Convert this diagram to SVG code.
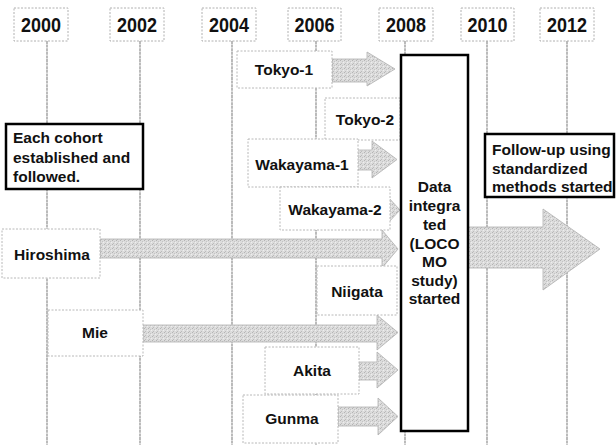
<svg xmlns="http://www.w3.org/2000/svg" width="616" height="445" viewBox="0 0 616 445">
<defs>
<pattern id="stip" width="4" height="4" patternUnits="userSpaceOnUse">
<rect width="4" height="4" fill="#dcdcdc"/>
<rect x="0" y="0" width="1" height="1" fill="#b4b4b4"/>
<rect x="2" y="1" width="1" height="1" fill="#c4c4c4"/>
<rect x="1" y="3" width="1" height="1" fill="#bcbcbc"/>
<rect x="3" y="2" width="1" height="1" fill="#eeeeee"/>
</pattern>
</defs>
<style>
text{font-family:"Liberation Sans",Arial,sans-serif;font-weight:bold;font-size:15.5px;fill:#111}
.y{font-size:20px}
.yr{fill:#fff;stroke:#b0b0b0;stroke-width:1;stroke-dasharray:2 1.5}
.vl{stroke:#aaa;stroke-width:1.6;stroke-dasharray:3 0.6;fill:none}
.nb{fill:#fff;stroke:#b8b8b8;stroke-width:1;stroke-dasharray:2 1.5}
.ar{fill:url(#stip);stroke:#b0b0b0;stroke-width:0.8}
.bb{fill:#fff;stroke:#000;stroke-width:2.5}
.c{text-anchor:middle}
</style>
<g id="timeline">
<line class="vl" x1="47" y1="41" x2="47" y2="445"/>
<line class="vl" x1="140" y1="41" x2="140" y2="445"/>
<line class="vl" x1="232" y1="41" x2="232" y2="445"/>
<line class="vl" x1="316" y1="41" x2="316" y2="445"/>
<line class="vl" x1="405" y1="41" x2="405" y2="445"/>
<line class="vl" x1="487" y1="41" x2="487" y2="445"/>
<line class="vl" x1="567" y1="41" x2="567" y2="445"/>
<rect class="yr" x="14" y="8" width="54" height="33"/><text class="c y" x="41" y="32" textLength="40" lengthAdjust="spacingAndGlyphs">2000</text>
<rect class="yr" x="110" y="8" width="54" height="33"/><text class="c y" x="137" y="32" textLength="40" lengthAdjust="spacingAndGlyphs">2002</text>
<rect class="yr" x="202" y="8" width="54" height="33"/><text class="c y" x="229" y="32" textLength="40" lengthAdjust="spacingAndGlyphs">2004</text>
<rect class="yr" x="288" y="8" width="53" height="33"/><text class="c y" x="314.5" y="32" textLength="40" lengthAdjust="spacingAndGlyphs">2006</text>
<rect class="yr" x="379" y="8" width="54" height="33"/><text class="c y" x="406" y="32" textLength="40" lengthAdjust="spacingAndGlyphs">2008</text>
<rect class="yr" x="461" y="8" width="53" height="33"/><text class="c y" x="487.5" y="32" textLength="40" lengthAdjust="spacingAndGlyphs">2010</text>
<rect class="yr" x="540" y="8" width="54" height="33"/><text class="c y" x="567" y="32" textLength="40" lengthAdjust="spacingAndGlyphs">2012</text>
</g>
<g id="connectors">
<polygon class="ar" points="332,59 367,59 367,52 395,69 367,86 367,82 332,82"/>
<polygon class="ar" points="356,150 372,150 372,141 397,159.5 372,178 372,170 356,170"/>
<polygon class="ar" points="380,202 388,202 388,197 400,210 388,223 388,218 380,218"/>
<polygon class="ar" points="100,239 382,239 382,230 398,249 382,268 382,258 100,258"/>
<polygon class="ar" points="143,325 377,325 377,315 398,332.5 377,350 377,342 143,342"/>
<polygon class="ar" points="359,362 377,362 377,352 398,370 377,388 377,380 359,380"/>
<polygon class="ar" points="338,407 378,407 378,398 398,416.5 378,435 378,426 338,426"/>
<polygon class="ar" points="468,227 543,227 543,209 600,249 543,290 543,268 468,268"/>
</g>
<g id="tokyo1"><rect class="nb" x="237" y="51" width="95" height="37"/><text class="c" x="284" y="75">Tokyo-1</text></g>
<g id="tokyo2"><rect class="nb" x="325" y="98" width="75" height="42"/><text class="c" x="365" y="125">Tokyo-2</text></g>
<g id="wakayama1"><rect class="nb" x="248" y="139" width="110" height="48"/><text class="c" x="302" y="170">Wakayama-1</text></g>
<g id="wakayama2"><rect class="nb" x="280" y="187" width="110" height="43"/><text class="c" x="335" y="215">Wakayama-2</text></g>
<g id="hiroshima"><rect class="nb" x="2" y="229" width="98" height="49"/><text class="c" x="52" y="260">Hiroshima</text></g>
<g id="niigata"><rect class="nb" x="317" y="266" width="80" height="49"/><text class="c" x="357" y="297">Niigata</text></g>
<g id="mie"><rect class="nb" x="48" y="310" width="95" height="46"/><text class="c" x="95" y="338">Mie</text></g>
<g id="akita"><rect class="nb" x="265" y="347" width="94" height="47"/><text class="c" x="312" y="376">Akita</text></g>
<g id="gunma"><rect class="nb" x="243" y="395" width="95" height="48"/><text class="c" x="292" y="424">Gunma</text></g>
<g id="cohort"><rect class="bb" x="6" y="124" width="137" height="65"/>
<text x="13" y="143">Each cohort</text><text x="13" y="163">established and</text><text x="13" y="182">followed.</text></g>
<g id="followup"><rect class="bb" x="485" y="134" width="129" height="63"/>
<text x="492" y="155">Follow-up using</text><text x="492" y="174">standardized</text><text x="492" y="192">methods started</text></g>
<g id="data"><rect class="bb" x="401" y="55" width="67" height="376"/>
<text class="c" x="434.5" y="192">Data</text><text class="c" x="434.5" y="211">integra</text><text class="c" x="434.5" y="230">ted</text><text class="c" x="434.5" y="249">(LOCO</text><text class="c" x="434.5" y="267">MO</text><text class="c" x="434.5" y="286">study)</text><text class="c" x="434.5" y="304">started</text></g>
</svg>
